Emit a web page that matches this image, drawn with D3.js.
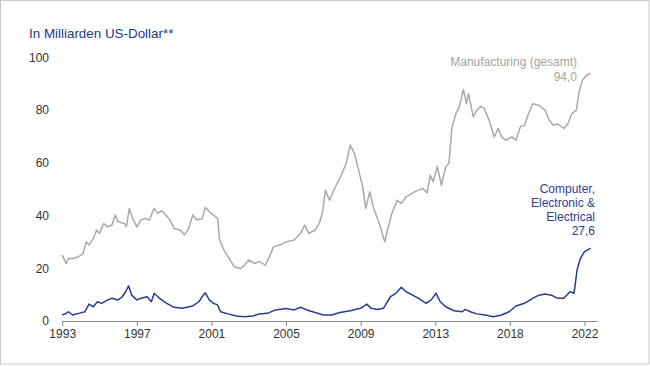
<!DOCTYPE html>
<html>
<head>
<meta charset="utf-8">
<script src="https://cdn.jsdelivr.net/npm/d3@7"></script>
<style>
  html, body { margin: 0; padding: 0; background: #fff; }
  svg { display: block; font-family: "Liberation Sans", Arial, sans-serif; }
</style>
</head>
<body>
<svg id="chart" width="650" height="366"></svg>
<script>
// ---- data (time in axis units, values in billions USD) ----
const mfgTime = [1993.0,1993.22,1993.33,1993.56,1993.89,1994.11,1994.29,1994.44,1994.67,1994.84,1995.0,1995.22,1995.44,1995.67,1995.84,1996.0,1996.33,1996.44,1996.6,1996.78,1997.0,1997.22,1997.44,1997.67,1997.93,1998.11,1998.33,1998.56,1998.78,1999.0,1999.33,1999.56,1999.78,2000.0,2000.22,2000.51,2000.67,2000.89,2001.11,2001.33,2001.44,2001.67,2001.89,2002.22,2002.56,2002.78,2003.0,2003.33,2003.56,2003.89,2004.11,2004.33,2004.67,2005.0,2005.44,2005.78,2006.0,2006.22,2006.56,2006.78,2006.96,2007.11,2007.33,2007.56,2007.78,2008.0,2008.22,2008.44,2008.67,2008.89,2009.11,2009.27,2009.49,2009.67,2010.0,2010.29,2010.44,2010.67,2010.96,2011.18,2011.44,2011.89,2012.33,2012.56,2012.73,2012.89,2013.11,2013.33,2013.56,2013.73,2013.89,2014.11,2014.29,2014.51,2014.67,2014.78,2015.04,2015.22,2015.44,2015.62,2015.89,2016.16,2016.38,2016.56,2016.78,2017.11,2017.33,2017.56,2017.78,2018.0,2018.22,2018.56,2018.89,2019.11,2019.33,2019.56,2019.89,2020.11,2020.33,2020.56,2020.73,2020.89,2021.11,2021.33];
const mfgValues = [25.0,21.8,23.7,23.7,24.4,25.6,30.0,28.8,31.3,34.5,33.2,37.0,35.7,36.4,40.2,37.6,37.0,35.7,42.7,38.9,35.7,38.3,38.9,38.3,42.7,40.8,41.8,40.2,38.3,35.1,34.5,32.6,35.1,40.2,38.3,38.9,43.1,41.4,40.2,38.9,30.7,26.9,24.4,20.6,19.9,21.2,23.1,21.8,22.5,21.2,24.4,28.2,28.8,30.0,30.7,33.2,36.4,33.2,34.5,37.0,41.4,49.6,45.8,49.6,52.8,55.9,59.7,66.7,63.5,57.2,50.9,42.7,49.0,43.3,37.0,30.0,34.5,40.8,45.8,44.6,47.1,49.0,50.3,48.6,55.3,52.8,58.5,51.5,58.5,59.7,73.0,78.7,81.2,87.8,82.4,86.2,77.4,79.9,81.4,80.6,76.1,69.8,73.0,69.8,68.6,69.8,68.6,73.6,74.2,78.7,82.4,81.8,79.9,76.1,74.2,74.8,73.0,74.8,78.7,79.9,87.5,91.3,93.2,94.0];

const cmpTime = [1993.0,1993.22,1993.33,1993.56,1993.89,1994.22,1994.44,1994.67,1994.89,1995.11,1995.44,1995.67,1996.0,1996.22,1996.4,1996.56,1996.73,1997.0,1997.22,1997.56,1997.78,1997.93,1998.22,1998.56,1999.0,1999.44,2000.0,2000.33,2000.56,2000.67,2000.89,2001.11,2001.33,2001.49,2001.89,2002.33,2002.78,2003.22,2003.56,2004.0,2004.44,2005.0,2005.44,2005.78,2006.11,2006.56,2007.0,2007.44,2007.89,2008.44,2009.0,2009.33,2009.56,2009.89,2010.22,2010.38,2010.6,2010.89,2011.18,2011.44,2011.78,2012.11,2012.51,2012.78,2013.04,2013.27,2013.56,2014.0,2014.44,2014.6,2014.89,2015.22,2015.67,2016.11,2016.56,2016.96,2017.33,2017.78,2018.22,2018.56,2018.89,2019.22,2019.56,2019.89,2020.22,2020.44,2020.6,2020.78,2021.0,2021.33];
const cmpValues = [2.3,2.9,3.5,2.3,2.9,3.5,6.4,5.4,7.3,6.7,8.0,8.6,8.0,9.2,11.1,13.3,9.8,8.0,8.6,9.2,7.3,10.5,8.6,6.9,5.2,4.8,5.7,7.3,9.8,10.7,8.0,6.7,6.1,3.5,2.7,1.9,1.6,1.9,2.7,2.9,4.2,4.7,4.2,5.2,4.2,3.2,2.3,2.3,3.2,3.9,4.8,6.4,4.8,4.4,4.8,6.7,9.2,10.5,12.8,11.1,9.8,8.6,6.7,8.0,10.5,7.3,5.4,3.9,3.5,4.4,3.5,2.7,2.3,1.6,2.3,3.5,5.7,6.7,8.6,9.8,10.2,9.8,8.6,8.6,11.1,10.5,19.3,23.7,26.3,27.6];

const xTickValues = [1993,1997,2001,2005,2009,2013,2017,2021];
const xTickLabels = ["1993","1997","2001","2005","2009","2013","2018","2022"];
const yTickValues = [0,20,40,60,80,100];

const titleText = "In Milliarden US-Dollar**";
const mfgLabel = ["Manufacturing (gesamt)", "94,0"];
const cmpLabel = ["Computer,", "Electronic &", "Electrical", "27,6"];

// ---- drawing ----
const svg = d3.select("#chart");
const W = 650, H = 366;

svg.append("rect")
  .attr("x", 0.5).attr("y", 0.5)
  .attr("width", W - 1.5).attr("height", H - 2.5)
  .attr("fill", "#fff").attr("stroke", "#c8c8c8").attr("stroke-width", 1);

const x = d3.scaleLinear().domain([1993, 2021.67]).range([62.2, 597]);
const y = d3.scaleLinear().domain([0, 100]).range([321, 57.3]);

// title
svg.append("text")
  .attr("x", 29).attr("y", 38)
  .attr("fill", "#24388a")
  .attr("font-size", "13.4px")
  .text(titleText);

// y axis (labels only)
const yAxis = svg.append("g")
  .attr("transform", `translate(62,0)`)
  .call(d3.axisLeft(y).tickValues(yTickValues).tickSize(0).tickPadding(13).tickFormat(d3.format("d")));
yAxis.select(".domain").remove();
yAxis.selectAll("text").attr("fill", "#333").attr("font-size", "12px")
  .attr("font-family", '"Liberation Sans", Arial, sans-serif');

// x axis
const xAxis = svg.append("g")
  .attr("transform", `translate(0,${y(0)})`)
  .call(d3.axisBottom(x).tickValues(xTickValues).tickSizeInner(5).tickSizeOuter(0).tickPadding(3)
    .tickFormat((d, i) => xTickLabels[i]));
xAxis.select(".domain").attr("stroke", "#8a8a8a");
xAxis.selectAll(".tick line").attr("stroke", "#8a8a8a");
xAxis.selectAll("text").attr("fill", "#333").attr("font-size", "12px")
  .attr("font-family", '"Liberation Sans", Arial, sans-serif');

// lines
const mfgData = mfgTime.map((t, i) => ({ t, v: mfgValues[i] }));
const cmpData = cmpTime.map((t, i) => ({ t, v: cmpValues[i] }));
const line = d3.line().x(d => x(d.t)).y(d => y(d.v));

svg.append("path").datum(mfgData)
  .attr("d", line).attr("fill", "none")
  .attr("stroke", "#a9a9a9").attr("stroke-width", 1.5).attr("stroke-linejoin", "round");

svg.append("path").datum(cmpData)
  .attr("d", line).attr("fill", "none")
  .attr("stroke", "#283c8e").attr("stroke-width", 1.5).attr("stroke-linejoin", "round");

// labels
const mfgText = svg.append("text")
  .attr("text-anchor", "end").attr("fill", "#a3a3a3").attr("font-size", "12px");
mfgLabel.forEach((s, i) => {
  mfgText.append("tspan").attr("x", 577).attr("y", 66 + i * 14.5).text(s);
});

const cmpText = svg.append("text")
  .attr("text-anchor", "end").attr("fill", "#2b3d8e").attr("font-size", "12px");
cmpLabel.forEach((s, i) => {
  cmpText.append("tspan").attr("x", 595).attr("y", 192.5 + i * 14.3).text(s);
});
</script>
</body>
</html>
